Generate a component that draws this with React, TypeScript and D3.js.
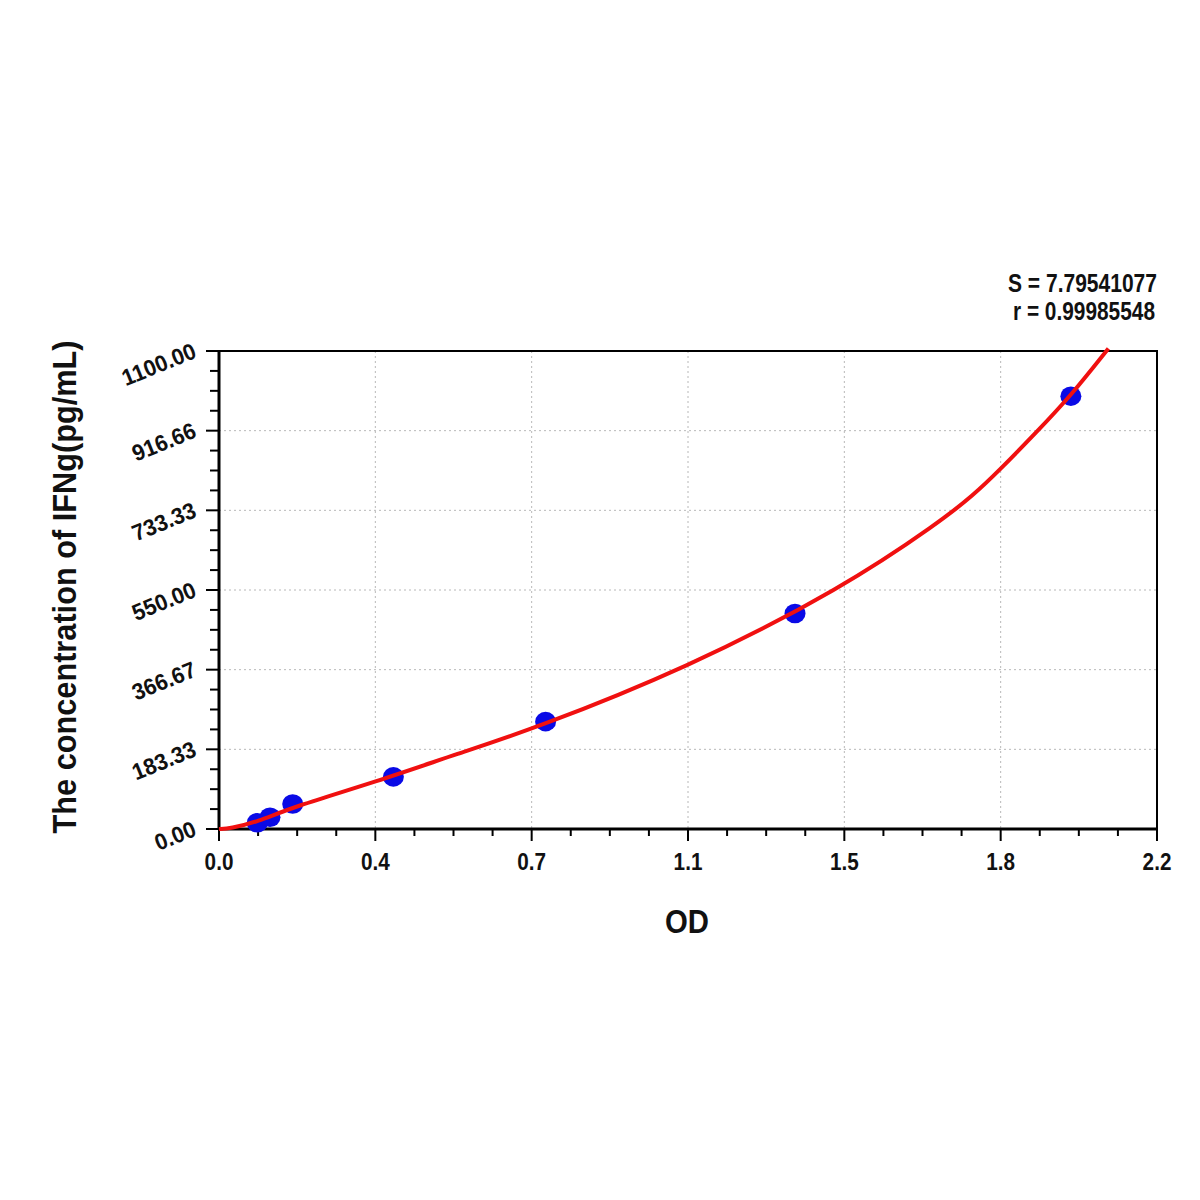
import React from 'react'
import * as d3 from 'd3'

// standards
const pointOD = [0.0898, 0.1196, 0.1729, 0.409, 0.766, 1.351, 1.998]
const pointConc = [14.5, 27, 57.5, 120, 247, 496, 996]

// fitted curve
const curveOD = [0, 0.026, 0.089, 0.174, 0.366, 0.565, 0.732, 1.0975, 1.463, 1.691, 1.769, 1.83, 1.918, 1.996, 2.086]
const curveConc = [0, 1, 16, 51, 108, 175, 228, 370, 555, 707, 768, 825, 914, 995, 1106]

const xTickLabels = ['0.0', '0.4', '0.7', '1.1', '1.5', '1.8', '2.2']
const yTickLabels = ['0.00', '183.33', '366.67', '550.00', '733.33', '916.66', '1100.00']

const statS = 'S = 7.79541077'
const statR = 'r = 0.99985548'

const FONT = '"Liberation Sans", Arial, sans-serif'

const App: React.FunctionComponent = () => {
  const width = 1200
  const height = 1200
  const left = 219, right = 1157, top = 351, bottom = 829

  const x = d3.scaleLinear().domain([0, 2.2]).range([left, right])
  const y = d3.scaleLinear().domain([0, 1100]).range([bottom, top])

  const xMajor = xTickLabels.map((_, i) => (2.2 / 6) * i)
  const yMajor = yTickLabels.map((_, i) => (1100 / 6) * i)
  const xMinor = d3.range(0, 24).map(i => (2.2 / 24) * i).filter((_, i) => i % 4 !== 0)
  const yMinor = d3.range(0, 24).map(i => (1100 / 24) * i).filter((_, i) => i % 4 !== 0)

  const line = d3.line<number>()
    .x((_, i) => x(curveOD[i]))
    .y(d => y(d))
    .curve(d3.curveBasis)

  return (
    <svg width={width} height={height} style={{ position: 'absolute', left: 0, top: 0, background: '#fff' }}
      fontFamily={FONT} fontWeight="bold">
      {/* grid */}
      <g stroke="#b8b8b8" strokeWidth={1} strokeDasharray="2,3">
        {xMajor.slice(1, -1).map((v, i) => (
          <line key={'gx' + i} x1={x(v)} x2={x(v)} y1={top} y2={bottom} />
        ))}
        {yMajor.slice(1, -1).map((v, i) => (
          <line key={'gy' + i} x1={left} x2={right} y1={y(v)} y2={y(v)} />
        ))}
      </g>

      {/* frame */}
      <rect x={left} y={top} width={right - left} height={bottom - top} fill="none" stroke="#000" strokeWidth={2} />
      <line x1={left} x2={left} y1={top - 1} y2={bottom + 1} stroke="#000" strokeWidth={3} />
      <line x1={left - 1} x2={right + 1} y1={bottom} y2={bottom} stroke="#000" strokeWidth={3} />

      {/* ticks */}
      <g stroke="#000" strokeWidth={2}>
        {xMajor.map((v, i) => (
          <line key={'xt' + i} x1={x(v)} x2={x(v)} y1={bottom} y2={bottom + 12} />
        ))}
        {xMinor.map((v, i) => (
          <line key={'xm' + i} x1={x(v)} x2={x(v)} y1={bottom} y2={bottom + 7} />
        ))}
        {yMajor.map((v, i) => (
          <line key={'yt' + i} x1={left - 13} x2={left} y1={y(v)} y2={y(v)} />
        ))}
        {yMinor.map((v, i) => (
          <line key={'ym' + i} x1={left - 9} x2={left} y1={y(v)} y2={y(v)} />
        ))}
      </g>

      <g fontSize={23} fill="#111">
        {xMajor.map((v, i) => (
          <text key={'xl' + i} transform={`translate(${x(v)},870) scale(0.9,1)`} textAnchor="middle">{xTickLabels[i]}</text>
        ))}
        {yMajor.map((v, i) => (
          <text key={'yl' + i} transform={`translate(195,${y(v) - 1}) rotate(-22) scale(0.95,1)`}
            textAnchor="end" dominantBaseline="central">{yTickLabels[i]}</text>
        ))}
      </g>

      {/* axis titles */}
      <text x={687} y={933} textAnchor="middle" fontSize={34} fill="#111" textLength={44} lengthAdjust="spacingAndGlyphs">OD</text>
      <text transform={`translate(76,587) rotate(-90)`} textAnchor="middle"
        fontSize={34} fill="#111" textLength={493} lengthAdjust="spacingAndGlyphs">
        The concentration of IFNg(pg/mL)
      </text>

      {/* statistics */}
      <g fontSize={25} fill="#111" textAnchor="end">
        <text x={1157} y={292} textLength={149} lengthAdjust="spacingAndGlyphs">{statS}</text>
        <text x={1155} y={320} textLength={142} lengthAdjust="spacingAndGlyphs">{statR}</text>
      </g>

      {/* points */}
      <g fill="#0a0ae6">
        {pointOD.map((v, i) => (
          <ellipse key={'p' + i} cx={x(v)} cy={y(pointConc[i])} rx={10.5} ry={9.8} />
        ))}
      </g>

      {/* fitted curve */}
      <path d={line(curveConc) || ''} fill="none" stroke="#f01010" strokeWidth={4} strokeLinejoin="round" />
    </svg>
  )
}

export default App
